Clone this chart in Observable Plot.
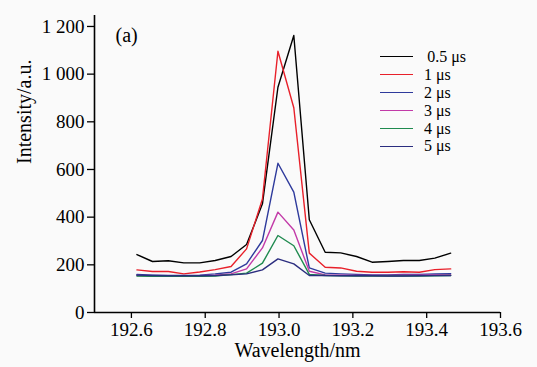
<!DOCTYPE html>
<html>
<head>
<meta charset="utf-8">
<script src="https://cdn.jsdelivr.net/npm/d3@7"></script>
<script src="https://cdn.jsdelivr.net/npm/@observablehq/plot@0.6"></script>
<style>
  html, body { margin: 0; padding: 0; background: #fafafa; }
  #wrap { position: relative; width: 537px; height: 367px; font-family: "Liberation Serif", "Times New Roman", serif; }
  #wrap svg, #wrap svg text { font-family: "Liberation Serif", "Times New Roman", serif !important; }
  #legend { position: absolute; left: 380px; top: 48px; font-size: 16px; color: #000; }
  #legend .row { display: flex; align-items: center; height: 17.9px; }
  #legend .sw { width: 33px; height: 0; border-top: 1.6px solid; margin-right: 11px; }
</style>
</head>
<body>
<div id="wrap"><div id="legend"></div></div>
<script>
const wavelength = [192.615, 192.657, 192.70, 192.742, 192.785, 192.827, 192.87, 192.912, 192.955, 192.997, 193.04, 193.082, 193.125, 193.167, 193.21, 193.252, 193.295, 193.337, 193.38, 193.422, 193.465];
const seriesNames = ["0.5 \u03bcs", "1 \u03bcs", "2 \u03bcs", "3 \u03bcs", "4 \u03bcs", "5 \u03bcs"];
const seriesColors = ["#000000", "#e8202a", "#2e3a9c", "#c23aa8", "#1f8a4f", "#2b2d7f"];
const s05 = [243, 214, 217, 208, 208, 218, 235, 285, 456, 945, 1162, 389, 253, 250, 235, 211, 214, 218, 218, 228, 249];
const s1  = [179, 172, 172, 162, 170, 180, 193, 267, 476, 1096, 859, 249, 190, 187, 173, 169, 169, 171, 169, 180, 183];
const s2  = [160, 157, 155, 155, 157, 162, 169, 204, 302, 626, 505, 187, 165, 162, 160, 158, 158, 160, 160, 162, 163];
const s3  = [155, 153, 153, 153, 154, 156, 162, 183, 271, 421, 346, 173, 158, 157, 155, 155, 155, 156, 157, 158, 158];
const s4  = [153, 152, 152, 152, 152, 153, 159, 165, 207, 323, 280, 160, 155, 154, 153, 153, 153, 153, 153, 154, 155];
const s5  = [157, 155, 154, 154, 154, 155, 158, 162, 179, 225, 204, 155, 155, 154, 154, 154, 153, 153, 154, 155, 155];
const xTicks = [192.6, 192.8, 193.0, 193.2, 193.4, 193.6];
const yTicks = [0, 200, 400, 600, 800, 1000, 1200];

const allSeries = [s05, s1, s2, s3, s4, s5];
const rows = [];
allSeries.forEach((vals, i) => vals.forEach((v, j) => rows.push({x: wavelength[j], y: v, s: seriesNames[i]})));

const fmtY = d => d >= 1000 ? d3.format(",")(d).replace(/,/g, " ") : String(d);
const serif = '"Liberation Serif", "Times New Roman", serif';

const chart = Plot.plot({
  width: 537,
  height: 367,
  marginLeft: 94,
  marginRight: 37,
  marginTop: 15,
  marginBottom: 55,
  style: {fontFamily: serif, fontSize: "19px", background: "transparent", color: "#000"},
  x: {domain: [192.5, 193.6]},
  y: {domain: [0, 1246]},
  color: {domain: seriesNames, range: seriesColors},
  marks: [
    Plot.axisX({ticks: xTicks, tickFormat: d3.format(".1f"), tickSize: 6, tickPadding: 4, label: null, fontSize: 19, fontFamily: serif, strokeWidth: 1.3}),
    Plot.axisY({ticks: yTicks, tickFormat: fmtY, tickSize: 7, tickPadding: 3, label: null, fontSize: 19, fontFamily: serif, strokeWidth: 1.3}),
    Plot.ruleX([192.5], {stroke: "#000", strokeWidth: 1.6}),
    Plot.ruleY([0], {stroke: "#000", strokeWidth: 1.6}),
    Plot.line(rows, {x: "x", y: "y", z: "s", stroke: "s", strokeWidth: 1.4}),
    Plot.text(["Wavelength/nm"], {frameAnchor: "bottom", dy: 38, fontSize: 20, fontFamily: serif, lineAnchor: "middle"}),
    Plot.text(["Intensity/a.u."], {frameAnchor: "left", dx: -70, rotate: -90, fontSize: 20, fontFamily: serif, lineAnchor: "middle"}),
    Plot.text(["(a)"], {frameAnchor: "top-left", dx: 21, dy: 20, fontSize: 20, fontFamily: serif, textAnchor: "start", lineAnchor: "middle"})
  ]
});
document.getElementById("wrap").prepend(chart);

const legend = document.getElementById("legend");
seriesNames.forEach((name, i) => {
  const row = document.createElement("div");
  row.className = "row";
  const sw = document.createElement("div");
  sw.className = "sw";
  sw.style.borderTopColor = seriesColors[i];
  const label = document.createElement("span");
  label.textContent = (i === 0 ? "\u2009" : "") + name;
  row.appendChild(sw);
  row.appendChild(label);
  legend.appendChild(row);
});
</script>
</body>
</html>
